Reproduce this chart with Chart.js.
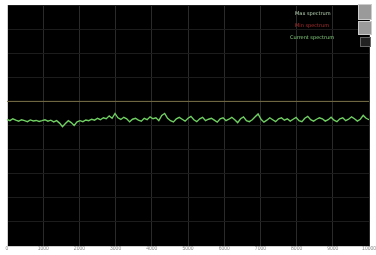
<!DOCTYPE html>
<html><head><meta charset="utf-8">
<script src="https://cdn.jsdelivr.net/npm/chart.js@4"></script>
<style>
html,body{margin:0;padding:0;background:#fff;width:376px;height:255px;overflow:hidden;font-family:"DejaVu Sans",sans-serif}
#wrap{position:relative;width:376px;height:255px}
.lg{position:absolute;font-size:5px;white-space:nowrap}
.btn{position:absolute;background:#9a9a9a;border:1px solid #ccc}
</style></head><body>
<div id="wrap"><canvas id="c" width="376" height="255"></canvas>
<div class="lg" style="left:295px;top:10px;color:#bcd8b8">Max spectrum</div>
<div class="lg" style="left:295px;top:22px;color:#b03030">Min spectrum</div>
<div class="lg" style="left:290px;top:34px;color:#86d07e">Current spectrum</div>
<div class="btn" style="left:358px;top:4px;width:12px;height:14px"></div>
<div class="btn" style="left:358px;top:21px;width:12px;height:12px"></div>
<div class="btn" style="left:360px;top:37px;width:9px;height:8px;background:#222;border-color:#666"></div>
</div>
<script>
const xTickLabels = ["0","1000","2000","3000","4000","5000","6000","7000","8000","9000","10000"];
const refLevel = 60;
const spectrum = [
52.5,52.0,52.8,52.2,51.8,52.4,52.0,51.6,52.3,51.9,52.1,51.7,52.0,52.4,51.8,52.2,51.5,52.0,
51.0,49.5,50.8,52.0,51.2,50.0,51.5,
52.0,51.6,52.3,52.0,52.6,52.2,53.0,52.4,53.2,52.8,54.0,53.0,55.0,53.2,
52.5,53.4,52.8,51.5,52.6,53.0,52.2,51.8,53.0,52.4,53.6,52.8,53.2,52.0,54.2,55.0,53.0,
52.0,51.5,52.8,53.4,52.6,51.8,53.0,53.8,52.4,51.6,52.8,53.4,52.0,52.6,53.0,52.2,51.4,52.8,53.2,52.0,
52.6,53.4,52.4,51.2,52.8,53.6,52.0,51.6,52.4,53.6,54.8,52.6,51.4,52.2,53.2,52.4,51.6,52.8,53.2,52.2,
52.8,51.8,52.6,53.4,52.0,51.6,53.0,53.8,52.4,51.8,52.6,53.2,52.8,51.8,52.4,53.4,52.2,51.6,52.8,53.2,52.0,52.6,53.6,52.8,51.8,52.6,54.2,53.0,52.4
];
const fMax = 10000;
const pts = spectrum.map((v,i)=>({x:i*fMax/(spectrum.length-1), y:v}));
const refPts = [{x:0,y:refLevel},{x:fMax,y:refLevel}];
const bg = {id:'bg',beforeDraw(ch){const a=ch.chartArea,c=ch.ctx;c.save();c.fillStyle='#000';c.fillRect(a.left,a.top,a.right-a.left,a.bottom-a.top);c.restore();}};
new Chart(document.getElementById('c'),{
 type:'line',
 data:{datasets:[
  {data:refPts,borderColor:'rgba(120,110,70,1)',borderWidth:1,pointRadius:0},
  {data:pts,borderColor:'#6fcf62',borderWidth:1.4,pointRadius:0,tension:0}
 ]},
 options:{responsive:false,animation:false,
  layout:{padding:{left:0,right:0,top:5,bottom:0}},
  plugins:{legend:{display:false},tooltip:{enabled:false}},
  scales:{
   x:{type:'linear',min:0,max:fMax,
      afterFit(s){s.height=9;},
      ticks:{stepSize:1000,autoSkip:false,maxRotation:0,padding:0,font:{size:5},color:'#888',
        callback:(v,i)=>xTickLabels[i]},
      grid:{color:'#2a2a2a',drawTicks:false},border:{color:'#cfcfcf'}},
   y:{min:0,max:100,
      afterFit(s){s.width=7;},
      ticks:{display:false,stepSize:10},
      grid:{color:'#1c1c1c',drawTicks:false},border:{color:'#cfcfcf',width:1}}
  }
 },
 plugins:[bg]
});
</script>
</body></html>
